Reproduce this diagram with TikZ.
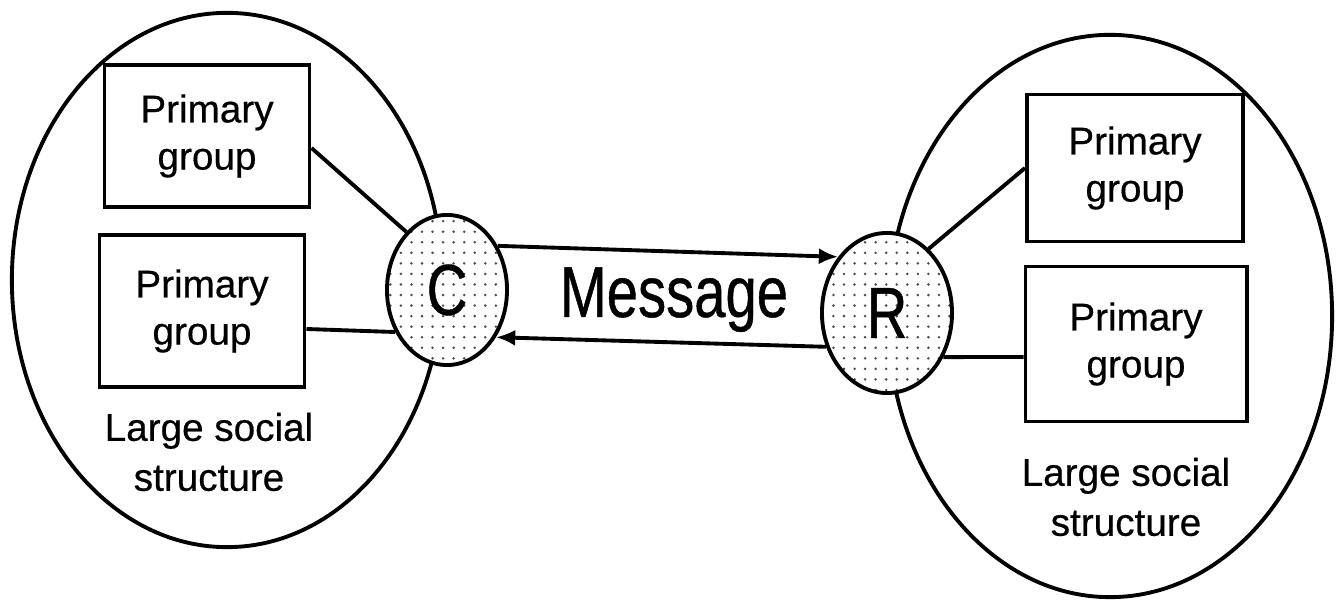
\documentclass[tikz,border=0pt]{standalone}
\usepackage{fontspec}
\setmainfont[FakeBold=0.5]{Liberation Sans}
\newfontfamily\narrowsans[FakeStretch=0.78, FakeBold=0.6]{Liberation Sans}
\usepackage{tikz}
\usetikzlibrary{arrows.meta, shapes.geometric, patterns.meta}
\tikzset{
  society/.style={draw, ellipse, line width=1.1pt, inner sep=0pt},
  groupbox/.style={draw, line width=1.1pt, align=center, inner sep=0pt,
    font=\fontsize{11}{13.4}\selectfont},
  actor/.style={draw, ellipse, line width=1.1pt, inner sep=0pt,
    preaction={fill=white}, pattern={Dots[radius=0.4pt, distance=3pt]},
    pattern color=black!70, font=\narrowsans\fontsize{20.5}{24}\selectfont},
  caption/.style={align=center, inner sep=0pt, font=\fontsize{11}{14.2}\selectfont},
  link/.style={line width=1.1pt},
  msgarrow/.style={line width=1.1pt, -{Latex[length=5.5pt, width=4.6pt]}}
}

\begin{document}
\begin{tikzpicture}[x=0.01cm, y=-0.01cm]
\useasboundingbox (0,0) rectangle (1338,601);
% the two large social structures
\node[society, minimum width=4.30cm, minimum height=5.34cm] (lsoc) at (227,280) {};
\node[society, minimum width=4.44cm, minimum height=5.62cm] (rsoc) at (1110,316) {};
% primary groups
\node[groupbox, minimum width=2.05cm, minimum height=1.42cm] (lg1) at (207,136) {Primary\\group};
\node[groupbox, minimum width=2.05cm, minimum height=1.52cm] (lg2) at (202,311) {Primary\\group};
\node[groupbox, minimum width=2.16cm, minimum height=1.47cm] (rg1) at (1135,168) {Primary\\group};
\node[groupbox, minimum width=2.21cm, minimum height=1.55cm] (rg2) at (1136,344) {Primary\\group};
\node[caption] (llab) at (209,452) {Large social\\structure};
\node[caption] (rlab) at (1126,497) {Large social\\structure};
% communicator and receiver
\node[actor, minimum width=1.20cm, minimum height=1.50cm] (C) at (447,290) {C};
\node[actor, minimum width=1.30cm, minimum height=1.60cm] (R) at (887,313) {R};
% message both ways
\node[font=\narrowsans\fontsize{20.5}{24}\selectfont, anchor=base] (msg) at (674,317) {Message};
\draw[msgarrow] (C.41) -- (R.131);
\draw[msgarrow] (R.209) -- (C.316);
% ties to the primary groups
\draw[link] ([yshift=-0.12cm]lg1.east) -- (C.125);
\draw[link] ([yshift=-0.18cm]lg2.east) -- (C.219);
\draw[link] (R.57) -- (rg1.west);
\draw[link] (R.322) -- ([yshift=-0.13cm]rg2.west);
\end{tikzpicture}
\end{document}
